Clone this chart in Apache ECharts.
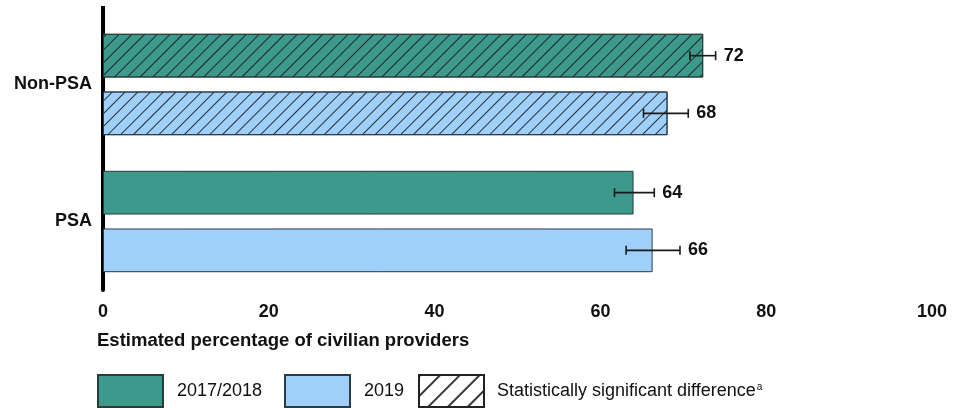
<!DOCTYPE html>
<html>
<head>
<meta charset="utf-8">
<script src="https://cdn.jsdelivr.net/npm/echarts@6/dist/echarts.min.js"></script>
<style>
html,body{margin:0;padding:0;background:#fff;}
#chart{width:964px;height:408px;}
</style>
</head>
<body>
<div id="chart"></div>
<script>
// ---- data ----
const categories = ['Non-PSA', 'PSA'];
const seriesNames = ['2017/2018', '2019'];
const values2017 = [72.4, 64.0];
const values2019 = [68.1, 66.3];
const errLow2017 = [70.8, 61.7];
const errHigh2017 = [73.9, 66.5];
const errLow2019 = [65.2, 63.1];
const errHigh2019 = [70.6, 69.6];
const significant = [true, false];
const xTicks = [0, 20, 40, 60, 80, 100];
const sigLabel = 'Statistically significant difference';
const axisTitle = 'Estimated percentage of civilian providers';

// ---- styles ----
const FONT = '"Liberation Sans", Arial, Helvetica, sans-serif';
const TEAL = '#3e998d';
const BLUE = '#9fcffb';
const hatch = {
  symbol: 'rect', symbolSize: 1, color: 'rgba(20,20,20,0.85)',
  dashArrayX: [1, 0], dashArrayY: [1, 7.5], rotation: -Math.PI / 4
};
const legendHatch = {
  symbol: 'rect', symbolSize: 1, color: 'rgba(20,20,20,0.85)',
  dashArrayX: [1, 0], dashArrayY: [1.2, 11.5], rotation: -Math.PI / 4
};
const CAT_GAP = 0.26, BAR_GAP = 0.32;

function barData(vals) {
  return vals.map((v, i) => significant[i]
    ? { value: v, itemStyle: { decal: hatch } }
    : { value: v });
}
function errData(lo, hi, vals) {
  return lo.map((l, i) => [i, l, hi[i], Math.round(vals[i])]);
}
function errRender(seriesPos) {
  return function (params, api) {
    const cat = api.value(0);
    const lo = api.coord([api.value(1), cat]);
    const hi = api.coord([api.value(2), cat]);
    const band = api.size([0, 1])[1];
    const bw = band * (1 - CAT_GAP) / (2 + BAR_GAP);
    const off = seriesPos * bw * (1 + BAR_GAP) / 2;
    const y = lo[1] + off;
    const cap = 4.5;
    const st = { stroke: '#1a1a1a', lineWidth: 1.6 };
    return {
      type: 'group',
      children: [
        { type: 'line', shape: { x1: lo[0], y1: y, x2: hi[0], y2: y }, style: st },
        { type: 'line', shape: { x1: lo[0], y1: y - cap, x2: lo[0], y2: y + cap }, style: st },
        { type: 'line', shape: { x1: hi[0], y1: y - cap, x2: hi[0], y2: y + cap }, style: st },
        { type: 'text', x: hi[0] + 8, y: y,
          style: { text: String(api.value(3)), fill: '#111', font: 'bold 18px ' + FONT,
                   textAlign: 'left', textVerticalAlign: 'middle' } }
      ]
    };
  };
}

const chart = echarts.init(document.getElementById('chart'), null, { renderer: 'canvas' });
const legendCommon = {
  top: 374, itemWidth: 65, itemHeight: 32, padding: 0, selectedMode: false,
  icon: 'rect',
  textStyle: { fontFamily: FONT, fontSize: 18, color: '#111', padding: [0, 0, 0, 9] }
};
chart.setOption({
  animation: false,
  backgroundColor: '#fff',
  title: {
    text: axisTitle, left: 97, top: 331, padding: 0,
    textStyle: { fontFamily: FONT, fontSize: 18.5, fontWeight: 'bold', color: '#111', lineHeight: 20 }
  },
  legend: [
    Object.assign({}, legendCommon, { left: 97, data: [seriesNames[0]] }),
    Object.assign({}, legendCommon, { left: 284, data: [seriesNames[1]] }),
    Object.assign({}, legendCommon, {
      left: 418,
      data: [{ name: sigLabel, itemStyle: { decal: legendHatch } }],
      formatter: n => '{t|' + n + '}{s|a}',
      textStyle: Object.assign({}, legendCommon.textStyle, {
        padding: [0, 0, 0, 8],
        rich: {
          t: { fontFamily: FONT, fontSize: 18, color: '#111' },
          s: { fontFamily: FONT, fontSize: 10, color: '#111', verticalAlign: 'top', padding: [0, 0, 8, 1] }
        }
      })
    })
  ],
  grid: { left: 103, right: 32, top: 16, bottom: 118, containLabel: false },
  xAxis: {
    type: 'value', min: xTicks[0], max: xTicks[xTicks.length - 1], interval: 20,
    axisLine: { show: false }, axisTick: { show: false }, splitLine: { show: false },
    axisLabel: { fontFamily: FONT, fontSize: 18, fontWeight: 'bold', color: '#111', margin: 13 }
  },
  yAxis: {
    type: 'category', data: categories, inverse: true,
    axisLine: { show: true, lineStyle: { color: '#000', width: 4 } },
    axisTick: { show: false },
    axisLabel: { fontFamily: FONT, fontSize: 18, fontWeight: 'bold', color: '#111', margin: 11 }
  },
  graphic: [{
    type: 'line', shape: { x1: 103, y1: 6, x2: 103, y2: 17 },
    style: { stroke: '#000', lineWidth: 4 }, silent: true
  }],
  series: [
    {
      name: seriesNames[0], type: 'bar', stack: 'a', data: barData(values2017),
      barCategoryGap: (CAT_GAP * 100) + '%', barGap: (BAR_GAP * 100) + '%',
      itemStyle: { color: TEAL, borderColor: '#2b3b38', borderWidth: 1 }
    },
    {
      name: seriesNames[1], type: 'bar', stack: 'b', data: barData(values2019),
      barCategoryGap: (CAT_GAP * 100) + '%', barGap: (BAR_GAP * 100) + '%',
      itemStyle: { color: BLUE, borderColor: '#2b3b48', borderWidth: 1 }
    },
    {
      name: sigLabel, type: 'bar', stack: 'b', data: [],
      itemStyle: { color: '#fff', borderColor: '#222', borderWidth: 1, decal: legendHatch }
    },
    {
      type: 'custom', name: 'err2017', renderItem: errRender(-1),
      data: errData(errLow2017, errHigh2017, values2017), z: 10
    },
    {
      type: 'custom', name: 'err2019', renderItem: errRender(1),
      data: errData(errLow2019, errHigh2019, values2019), z: 10
    }
  ]
});
</script>
</body>
</html>
